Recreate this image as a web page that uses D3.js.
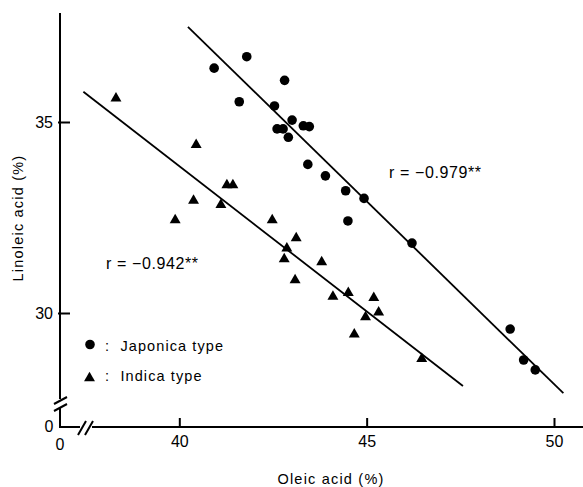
<!DOCTYPE html>
<html>
<head>
<meta charset="utf-8">
<script src="https://cdn.jsdelivr.net/npm/d3@7"></script>
<style>
body { margin: 0; background: #fff; }
svg { display: block; }
text { font-family: "Liberation Sans", Arial, sans-serif; fill: #000; }
</style>
</head>
<body>
<script>
// data
var japonicaOleic = [41.80, 40.93, 42.81, 41.60, 42.54, 43.01, 42.61, 42.77, 42.91, 43.31,
                     43.47, 43.43, 43.90, 44.44, 44.93, 44.50, 46.21, 48.83, 49.19, 49.50];
var japonicaLinoleic = [36.71, 36.41, 36.09, 35.53, 35.42, 35.05, 34.82, 34.82, 34.60, 34.90,
                        34.88, 33.89, 33.59, 33.20, 33.00, 32.41, 31.83, 29.58, 28.77, 28.51];
var indicaOleic = [38.31, 40.45, 41.27, 41.43, 40.38, 41.11, 39.89, 42.48, 43.12, 42.87,
                   42.80, 43.80, 43.09, 44.10, 44.51, 45.19, 45.32, 44.97, 44.67, 46.47];
var indicaLinoleic = [35.62, 34.40, 33.35, 33.35, 32.94, 32.83, 32.43, 32.43, 31.96, 31.69,
                      31.41, 31.33, 30.86, 30.43, 30.53, 30.40, 30.02, 29.89, 29.44, 28.80];
// regression lines, start and end
var japonicaFit = [[40.23, 37.49], [50.25, 27.90]];
var indicaFit = [[37.44, 35.79], [47.57, 28.09]];
var xTicks = [40, 45, 50];
var yTicks = [30, 35];
var rLabels = ["r = \u22120.979**", "r = \u22120.942**"];
var legendNames = ["Japonica type", "Indica type"];

var width = 583, height = 487;

var svg = d3.select("body").append("svg")
    .attr("width", width)
    .attr("height", height);

var x = d3.scaleLinear().domain([40, 50]).range([179.3, 554]);
var y = d3.scaleLinear().domain([30, 35]).range([313, 122]);
var originX = 60, originY = 427;

// axes lines with breaks
var axisStyle = function (sel) {
    sel.attr("stroke", "#000").attr("stroke-width", 2).attr("fill", "none");
};
svg.append("path")
    .attr("d", "M" + originX + ",13V399M" + originX + ",408V" + originY + "H80M92," + originY + "H" + width)
    .call(axisStyle);
// break marks
svg.append("path")
    .attr("d", "M54,404L67,397M54,411L67,404")
    .call(axisStyle);
svg.append("path")
    .attr("d", "M78,435L86,421M85,435L93,421")
    .call(axisStyle);

var xAxis = svg.append("g")
    .attr("transform", "translate(0," + originY + ")")
    .call(d3.axisBottom(x).tickValues(xTicks).tickFormat(d3.format("d"))
        .tickSizeInner(-9).tickSizeOuter(0).tickPadding(9));
xAxis.select(".domain").remove();
xAxis.selectAll("line").attr("stroke-width", 2);
xAxis.selectAll("text").attr("font-size", 16).attr("font-family", null);

var yAxis = svg.append("g")
    .attr("transform", "translate(" + originX + ",0)")
    .call(d3.axisLeft(y).tickValues(yTicks).tickFormat(d3.format("d"))
        .tickSizeInner(-10).tickSizeOuter(0).tickPadding(7));
yAxis.select(".domain").remove();
yAxis.selectAll("line").attr("stroke-width", 2).attr("x1", -2);
yAxis.selectAll("text").attr("font-size", 16).attr("font-family", null);

// zero labels at the broken origin
svg.append("text").attr("x", originX).attr("y", 450).attr("text-anchor", "middle")
    .attr("font-size", 16).text("0");
svg.append("text").attr("x", 49).attr("y", 432).attr("text-anchor", "middle")
    .attr("font-size", 16).text("0");

// axis titles
svg.append("text")
    .attr("x", 331).attr("y", 484)
    .attr("text-anchor", "middle")
    .attr("font-size", 14.5)
    .attr("letter-spacing", 1.2)
    .text("Oleic acid (%)");
svg.append("text")
    .attr("transform", "translate(23,218) rotate(-90)")
    .attr("text-anchor", "middle")
    .attr("font-size", 14.5)
    .attr("letter-spacing", 1.2)
    .text("Linoleic acid (%)");

// regression lines
var line = d3.line()
    .x(function (d) { return x(d[0]); })
    .y(function (d) { return y(d[1]); });
[japonicaFit, indicaFit].forEach(function (f) {
    svg.append("path").attr("d", line(f))
        .attr("stroke", "#000").attr("stroke-width", 1.8).attr("fill", "none");
});

// points
svg.selectAll(".jap")
    .data(japonicaOleic)
    .enter()
    .append("circle")
    .attr("class", "jap")
    .attr("cx", function (d) { return x(d); })
    .attr("cy", function (d, i) { return y(japonicaLinoleic[i]); })
    .attr("r", 4.8)
    .attr("fill", "#000");

var tri = d3.symbol().type(d3.symbolTriangle).size(52);
svg.selectAll(".ind")
    .data(indicaOleic)
    .enter()
    .append("path")
    .attr("class", "ind")
    .attr("d", tri)
    .attr("transform", function (d, i) {
        return "translate(" + x(d) + "," + y(indicaLinoleic[i]) + ")";
    })
    .attr("fill", "#000");

// correlation labels
svg.append("text").attr("x", 389).attr("y", 178)
    .attr("font-size", 16).attr("letter-spacing", 0.6).text(rLabels[0]);
svg.append("text").attr("x", 106).attr("y", 269)
    .attr("font-size", 16).attr("letter-spacing", 0.6).text(rLabels[1]);

// legend
var legend = svg.append("g");
legend.append("circle").attr("cx", 90).attr("cy", 344.5).attr("r", 4.8).attr("fill", "#000");
legend.append("path").attr("d", tri).attr("transform", "translate(89.5,378)").attr("fill", "#000");
legend.selectAll(".lab")
    .data(legendNames)
    .enter()
    .append("text")
    .attr("x", 105)
    .attr("y", function (d, i) { return 351 + i * 30; })
    .attr("font-size", 14.5)
    .attr("letter-spacing", 1.1)
    .text(function (d) { return ":  " + d; })
    .attr("xml:space", "preserve");
</script>
</body>
</html>
